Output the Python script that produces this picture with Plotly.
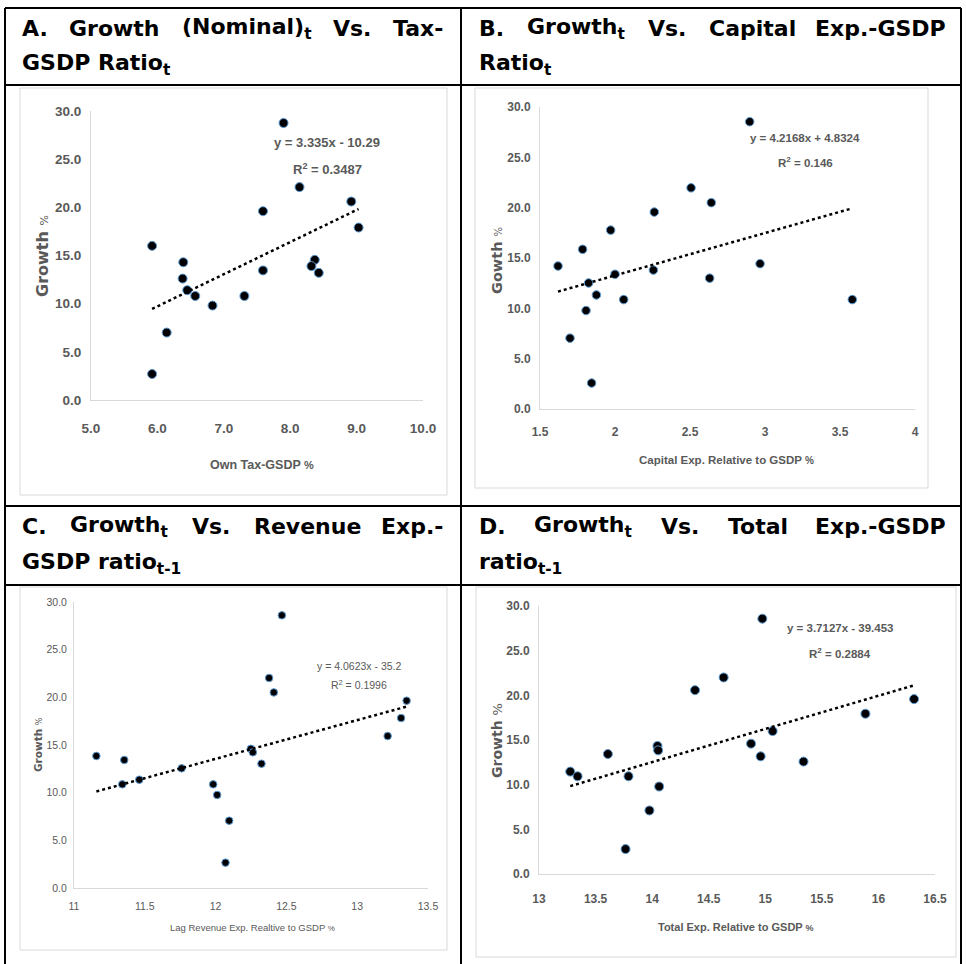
import plotly.graph_objects as go

# page size in px
W, H = 966, 964

# ---- data ----
tax_gsdp = [7.90, 8.14, 8.92, 7.59, 9.03, 5.92, 6.39, 8.37, 8.32, 8.43, 7.59, 6.38, 6.45, 6.57, 7.31, 6.83, 6.14, 5.92]
growth_a = [28.76, 22.1, 20.6, 19.6, 17.9, 16.0, 14.3, 14.55, 13.9, 13.2, 13.45, 12.6, 11.4, 10.8, 10.8, 9.8, 7.0, 2.7]

capex_gsdp = [2.898, 2.507, 2.642, 2.262, 1.971, 1.784, 1.62, 2.967, 2.256, 2.631, 2.0, 1.824, 1.876, 2.058, 3.582, 1.807, 1.70, 1.844]
growth_b = [28.54, 21.97, 20.5, 19.56, 17.77, 15.86, 14.2, 14.44, 13.8, 13.0, 13.38, 12.52, 11.33, 10.87, 10.87, 9.78, 7.04, 2.58]

revexp_lag = [12.468, 12.378, 12.411, 13.349, 13.31, 13.215, 11.158, 11.355, 12.249, 12.263, 12.324, 11.76, 11.461, 11.341, 11.983, 12.011, 12.096, 12.07]
growth_c = [28.6, 22.03, 20.52, 19.65, 17.83, 15.94, 13.85, 13.43, 14.6, 14.23, 13.04, 12.55, 11.36, 10.87, 10.87, 9.76, 7.06, 2.66]

totexp_lag = [14.974, 14.632, 14.379, 16.315, 15.885, 15.065, 14.047, 14.874, 14.053, 14.959, 13.609, 15.338, 13.276, 13.341, 13.791, 14.062, 13.976, 13.765]
growth_d = [28.58, 22.0, 20.58, 19.58, 17.94, 16.0, 14.33, 14.59, 13.84, 13.17, 13.43, 12.58, 11.46, 10.94, 10.94, 9.79, 7.11, 2.79]

# trendline coefficients as printed on the charts
slopes = [3.335, 4.2168, 4.0623, 3.7127]
intercepts = [-10.29, 4.8324, -35.2, -39.453]
r2 = ["0.3487", "0.146", "0.1996", "0.2884"]
eq_text = ["y = 3.335x - 10.29", "y = 4.2168x + 4.8324", "y = 4.0623x - 35.2", "y = 3.7127x - 39.453"]

x_titles = ["Own Tax-GSDP", "Capital Exp. Relative to GSDP", "Lag Revenue Exp. Realtive to GSDP", "Total Exp. Relative to GSDP"]
y_titles = ["Growth", "Gowth", "Growth", "Growth"]

x_ranges = [[5, 10], [1.5, 4], [11, 13.5], [13, 16.5]]
x_dticks = [1, 0.5, 0.5, 0.5]
x_formats = [".1f", "", "", ""]

# header lines: list of (word, subscript)
headers = [
    ([("A.", ""), ("Growth", ""), ("(Nominal)", "t"), ("Vs.", ""), ("Tax-", "")], 20, 445, 28),
    ([("GSDP Ratio", "t")], 20, None, 65),
    ([("B.", ""), ("Growth", "t"), ("Vs.", ""), ("Capital", ""), ("Exp.-GSDP", "")], 477, 948, 28),
    ([("Ratio", "t")], 477, None, 65),
    ([("C.", ""), ("Growth", "t"), ("Vs.", ""), ("Revenue", ""), ("Exp.-", "")], 20, 445, 526),
    ([("GSDP ratio", "t-1")], 20, None, 563),
    ([("D.", ""), ("Growth", "t"), ("Vs.", ""), ("Total", ""), ("Exp.-GSDP", "")], 477, 948, 526),
    ([("ratio", "t-1")], 477, None, 563),
]


def px(x):
    return x / W


def py(y):
    return 1 - y / H


GRAY = "#595959"
NARROW = "Liberation Sans, Arial, sans-serif"
HEAD = "DejaVu Sans, Verdana, sans-serif"
HSIZE = 22

# rough DejaVu Sans Bold advance widths (em) to spread justified words
ADV = {" ": .348, "A": .774, "B": .762, "C": .734, "D": .830, "E": .683, "G": .821, "N": .837, "P": .733,
       "R": .770, "S": .720, "T": .682, "V": .774, "a": .675, "c": .593, "e": .678, "h": .712, "i": .343,
       "l": .343, "m": 1.042, "n": .712, "o": .687, "p": .716, "r": .493, "s": .595, "t": .478, "u": .712,
       "v": .652, "w": .924, "x": .645, ".": .380, "-": .415, "(": .457, ")": .457, "1": .696}


def word_w(word, sub):
    return HSIZE * (sum(ADV.get(c, .7) for c in word) + 0.7 * sum(ADV.get(c, .7) for c in sub))


# per panel layout (pixels): plot area, fonts, label spots
panels = [
    dict(x=tax_gsdp, y=growth_a, area=(91, 111, 423, 400), tick=13.5, msize=9, bold=True,
         eq=(327, 142, 169, 13), xt=(262, 465, 12.5), yt=(43, 256, 16, 11), xs=16, ys=6),
    dict(x=capex_gsdp, y=growth_b, area=(540, 107, 915, 409), tick=12, msize=8.5, bold=True,
         eq=(805, 138, 162, 11.5), xt=(726, 460, 11.5), yt=(497, 260, 14.5, 10), xs=12, ys=6),
    dict(x=revexp_lag, y=growth_c, area=(74, 602, 428, 888), tick=10.5, msize=7.5, bold=False,
         eq=(359, 666, 684, 10.5), xt=(252, 927, 9.5), yt=(38, 745, 10.5, 8), xs=8, ys=4),
    dict(x=totexp_lag, y=growth_d, area=(539, 606, 935, 874), tick=12, msize=9, bold=True,
         eq=(840, 628, 653, 11.5), xt=(736, 927, 11), yt=(497, 740, 14, 13), xs=14, ys=6),
]

fig = go.Figure()
annotations = []
layout_axes = {}

for i, p in enumerate(panels):
    n = "" if i == 0 else str(i + 1)
    x0, y0, x1, y1 = p["area"]
    wt = "bold" if p["bold"] else "normal"
    fig.add_trace(go.Scatter(
        x=p["x"], y=p["y"], mode="markers", xaxis="x" + n, yaxis="y" + n,
        marker=dict(color="black", size=p["msize"], line=dict(color="#5b9bd5", width=1)),
        showlegend=False, hoverinfo="x+y"))
    # dotted linear trendline from the printed equation
    xs_line = [min(p["x"]), max(p["x"])]
    ys_line = [slopes[i] * v + intercepts[i] for v in xs_line]
    fig.add_trace(go.Scatter(
        x=xs_line, y=ys_line, mode="lines", xaxis="x" + n, yaxis="y" + n,
        line=dict(color="black", width=2.5, dash="dot"), showlegend=False, hoverinfo="skip"))

    tickfont = dict(family=NARROW, size=p["tick"], color=GRAY, weight=wt)
    layout_axes["xaxis" + n] = dict(
        domain=[px(x0), px(x1)], anchor="y" + n, range=x_ranges[i], dtick=x_dticks[i], tick0=x_ranges[i][0],
        tickformat=x_formats[i], showgrid=False, zeroline=False, showline=True, linecolor="#d9d9d9",
        linewidth=1, ticks="", tickfont=tickfont, ticklabelstandoff=p["xs"], automargin=False,
        fixedrange=True)
    layout_axes["yaxis" + n] = dict(
        domain=[py(y1), py(y0)], anchor="x" + n, range=[0, 30], dtick=5, tickformat=".1f",
        showgrid=False, zeroline=False, showline=True, linecolor="#d9d9d9", linewidth=1, ticks="",
        tickfont=tickfont, ticklabelstandoff=p["ys"], automargin=False, fixedrange=True)

    ex, ey1, ey2, es = p["eq"]
    efont = dict(family=NARROW, size=es, color=GRAY, weight=wt)
    annotations.append(dict(x=px(ex), y=py(ey1), text=eq_text[i], font=efont))
    annotations.append(dict(x=px(ex), y=py(ey2), text="R<sup>2</sup> = " + r2[i], font=efont))

    tx, ty, ts = p["xt"]
    annotations.append(dict(x=px(tx), y=py(ty), font=dict(family=NARROW, size=ts, color=GRAY, weight=wt),
                            text=x_titles[i] + " <span style='font-size:%dpx'>%%</span>" % round(ts * 0.85)))
    yx, yy, ys, pct = p["yt"]
    annotations.append(dict(x=px(yx), y=py(yy), textangle=-90,
                            font=dict(family=HEAD, size=ys, color=GRAY, weight="bold"),
                            text=y_titles[i] + " <span style='font-size:%dpx;font-weight:normal'>%%</span>"
                            % round(pct)))

# header cells: words spread evenly across the cell like the justified text in the reference
hfont = dict(family=HEAD, size=HSIZE, color="black", weight="bold")
for words, left, right, hy in headers:
    if right is None:
        word, sub = words[0]
        annotations.append(dict(x=px(left), y=py(hy), xanchor="left", yanchor="middle", font=hfont,
                                text=word + ("<sub>%s</sub>" % sub if sub else "")))
        continue
    widths = [word_w(w, s) for w, s in words]
    gap = (right - left - sum(widths)) / (len(words) - 1)
    pos = left
    for k, (word, sub) in enumerate(words):
        last = k == len(words) - 1
        annotations.append(dict(x=px(right if last else pos), y=py(hy), xanchor="right" if last else "left",
                                yanchor="middle", font=hfont,
                                text=word + ("<sub>%s</sub>" % sub if sub else "")))
        pos += widths[k] + gap

for a in annotations:
    a.setdefault("xref", "paper")
    a.setdefault("yref", "paper")
    a.setdefault("xanchor", "center")
    a.setdefault("yanchor", "middle")
    a.setdefault("showarrow", False)

# table rules and the light frames round each pasted chart
shapes = []
rules = [(5, 8, 961, 8), (5, 8, 5, 964), (961, 8, 961, 964), (461, 8, 461, 964),
         (5, 85, 961, 85), (5, 506, 961, 506), (5, 585, 961, 585)]
for a, b, c, d in rules:
    shapes.append(dict(type="line", xref="paper", yref="paper", x0=px(a), y0=py(b), x1=px(c), y1=py(d),
                       line=dict(color="black", width=2)))
frames = [(20, 88, 447, 495), (475, 88, 928, 488), (20, 587, 447, 950), (476, 587, 956, 957)]
for a, b, c, d in frames:
    shapes.append(dict(type="rect", xref="paper", yref="paper", x0=px(a), y0=py(b), x1=px(c), y1=py(d),
                       line=dict(color="#d9d9d9", width=1), layer="below"))

fig.update_layout(width=W, height=H, margin=dict(l=0, r=0, t=0, b=0, autoexpand=False),
                  paper_bgcolor="white", plot_bgcolor="white", showlegend=False,
                  annotations=annotations, shapes=shapes, **layout_axes)

# drop the browser's default body margin so the figure sits at the page corner
fig.write_html("out.html", config={"displayModeBar": False},
               post_script="document.body.style.margin='0px';")
